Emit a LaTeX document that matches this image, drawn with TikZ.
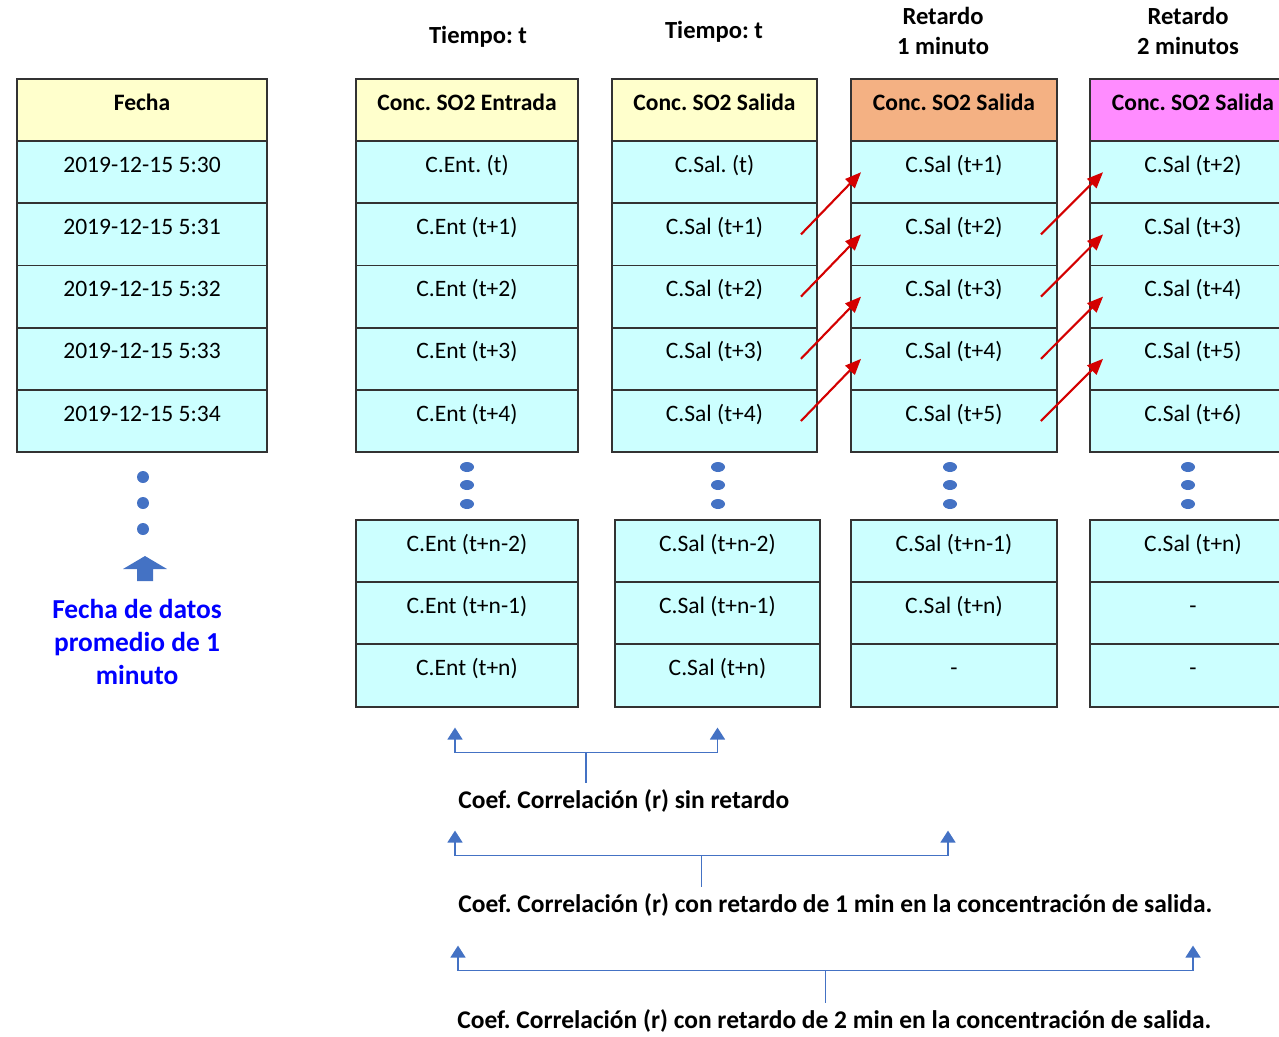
\documentclass[tikz,border=0pt]{standalone}
\usepackage{fontspec}
\setmainfont{Carlito}
\frenchspacing
\usetikzlibrary{arrows.meta,positioning,calc}
\definecolor{hdryellow}{HTML}{FFFFCC}
\definecolor{cellcyan}{HTML}{CCFFFF}
\definecolor{hdrorange}{HTML}{F4B183}
\definecolor{hdrpink}{HTML}{FF8CFF}
\definecolor{linegray}{HTML}{333333}
\definecolor{dotblue}{HTML}{4472C4}
\definecolor{lagred}{HTML}{D40000}
\tikzset{
  cell/.style={draw=linegray, line width=1.1pt, fill=cellcyan, inner sep=0pt,
    minimum height=1.244cm, text height=1.6ex, text depth=1.6ex,
    font=\fontsize{13.4}{16}\selectfont},
  hdr/.style={cell, fill=hdryellow, font=\bfseries\fontsize{13.4}{16}\selectfont},
  coltitle/.style={align=center, font=\bfseries\fontsize{14}{17}\selectfont},
  coeftext/.style={anchor=west, inner xsep=0pt, font=\bfseries\fontsize{14.5}{16}\selectfont},
  lagarr/.style={-{Triangle[length=3.2mm, width=2.6mm]}, line width=1.2pt, draw=lagred},
  brace/.style={{Triangle[length=2.4mm, width=3mm]}-{Triangle[length=2.4mm, width=3mm]},
    line width=0.9pt, draw=dotblue, fill=none},
  bracetick/.style={line width=0.9pt, draw=dotblue}
}
\begin{document}
\begin{tikzpicture}[x=0.02cm,y=-0.02cm]
  \useasboundingbox (0,0) rectangle (1279,1036);
  \clip (0,0) rectangle (1279,1036);

  % column titles
  \node[coltitle] (tit-ent) at (478,37) {Tiempo: t};
  \node[coltitle] (tit-sal) at (714,32) {Tiempo: t};
  \node[coltitle] (tit-ret1) at (943,31) {Retardo\\1 minuto};
  \node[coltitle] (tit-ret2) at (1188,31) {Retardo\\2 minutos};

  % headers
  \node[hdr, minimum width=5cm] (fecha-h) at (142,110) {Fecha};
  \node[hdr, minimum width=4.44cm] (ent-h) at (467,110) {Conc. SO2 Entrada};
  \node[hdr, minimum width=4.1cm] (sal-h) at (714.5,110) {Conc. SO2 Salida};
  \node[hdr, minimum width=4.12cm, fill=hdrorange] (ret1-h) at (954,110) {Conc. SO2 Salida};
  \node[hdr, minimum width=4.12cm, fill=hdrpink] (ret2-h) at (1193,110) {Conc. SO2 Salida};

  % first rows
  \foreach \i/\txt in {1/2019-12-15 5:30,2/2019-12-15 5:31,3/2019-12-15 5:32,4/2019-12-15 5:33,5/2019-12-15 5:34}
    \node[cell, minimum width=5cm] (fecha-\i) at (142,{110+62.2*\i}) {\txt};
  \foreach \i/\txt in {1/C.Ent. (t),2/C.Ent (t+1),3/C.Ent (t+2),4/C.Ent (t+3),5/C.Ent (t+4)}
    \node[cell, minimum width=4.44cm] (ent-\i) at (467,{110+62.2*\i}) {\txt};
  \foreach \i/\txt in {1/C.Sal. (t),2/C.Sal (t+1),3/C.Sal (t+2),4/C.Sal (t+3),5/C.Sal (t+4)}
    \node[cell, minimum width=4.1cm] (sal-\i) at (714.5,{110+62.2*\i}) {\txt};
  \foreach \i/\txt in {1/C.Sal (t+1),2/C.Sal (t+2),3/C.Sal (t+3),4/C.Sal (t+4),5/C.Sal (t+5)}
    \node[cell, minimum width=4.12cm] (ret1-\i) at (954,{110+62.2*\i}) {\txt};
  \foreach \i/\txt in {1/C.Sal (t+2),2/C.Sal (t+3),3/C.Sal (t+4),4/C.Sal (t+5),5/C.Sal (t+6)}
    \node[cell, minimum width=4.12cm] (ret2-\i) at (1193,{110+62.2*\i}) {\txt};

  % last rows
  \foreach \j/\txt in {1/C.Ent (t+n-2),2/C.Ent (t+n-1),3/C.Ent (t+n)}
    \node[cell, minimum width=4.44cm] (ent-b\j) at (467,{520+62.2*(\j-0.5)}) {\txt};
  \foreach \j/\txt in {1/C.Sal (t+n-2),2/C.Sal (t+n-1),3/C.Sal (t+n)}
    \node[cell, minimum width=4.1cm] (sal-b\j) at (717.5,{520+62.2*(\j-0.5)}) {\txt};
  \foreach \j/\txt in {1/C.Sal (t+n-1),2/C.Sal (t+n),3/-}
    \node[cell, minimum width=4.12cm] (ret1-b\j) at (954,{520+62.2*(\j-0.5)}) {\txt};
  \foreach \j/\txt in {1/C.Sal (t+n),2/-,3/-}
    \node[cell, minimum width=4.12cm] (ret2-b\j) at (1193,{520+62.2*(\j-0.5)}) {\txt};

  % dots
  \foreach \y in {477,503,529}
    \fill[dotblue] (143,\y) circle [radius=6];
  \foreach \x in {467,718,950,1188}
    \foreach \y in {467,485,504}
      \fill[dotblue] (\x,\y) ellipse [x radius=7, y radius=5];

  % date note
  \fill[dotblue] (145,556) -- (167,569) -- (153,569) -- (153,581) -- (137,581)
    -- (137,569) -- (123,569) -- cycle;
  \node[align=center, text=blue, font=\bfseries\fontsize{15.6}{18.8}\selectfont]
    (nota) at (137,642) {Fecha de datos\\promedio de 1\\minuto};

  % lag arrows
  \foreach \i/\j in {2/1,3/2,4/3,5/4} {
    \draw[lagarr] ([xshift=-0.34cm]sal-\i.east) -- ([xshift=0.22cm]ret1-\j.west);
    \draw[lagarr] ([xshift=-0.34cm]ret1-\i.east) -- ([xshift=0.28cm]ret2-\j.west);
  }

  % correlation braces
  \node[coeftext] (coef0) at (458,801) {Coef. Correlación (r) sin retardo};
  \node[coeftext] (coef1) at (458,905) {Coef. Correlación (r) con retardo de 1 min en la concentración de salida.};
  \node[coeftext] (coef2) at (457,1021) {Coef. Correlación (r) con retardo de 2 min en la concentración de salida.};

  \coordinate (r0a) at ($(ent-b3.south)+(-12,20)$);
  \coordinate (r0b) at ($(sal-b3.south)+(0,20)$);
  \coordinate (r0m) at ($(r0a)!0.5!(r0b)+(0,25)$);
  \draw[brace] (r0a) -- ++(0,25) -| (r0b);
  \draw[bracetick] (r0m) -- (coef0.north -| r0m);

  \coordinate (r1a) at ($(ent-b3.south)+(-12,123)$);
  \coordinate (r1b) at ($(ret1-b3.south)+(-6,123)$);
  \coordinate (r1m) at ($(r1a)!0.5!(r1b)+(0,25)$);
  \draw[brace] (r1a) -- ++(0,25) -| (r1b);
  \draw[bracetick] (r1m) -- (coef1.north -| r1m);

  \coordinate (r2a) at ($(ent-b3.south)+(-9,238)$);
  \coordinate (r2b) at ($(ret2-b3.south)+(0,238)$);
  \coordinate (r2m) at ($(r2a)!0.5!(r2b)+(0,25)$);
  \draw[brace] (r2a) -- ++(0,25) -| (r2b);
  \draw[bracetick] (r2m) -- (coef2.north -| r2m);
\end{tikzpicture}
\end{document}
